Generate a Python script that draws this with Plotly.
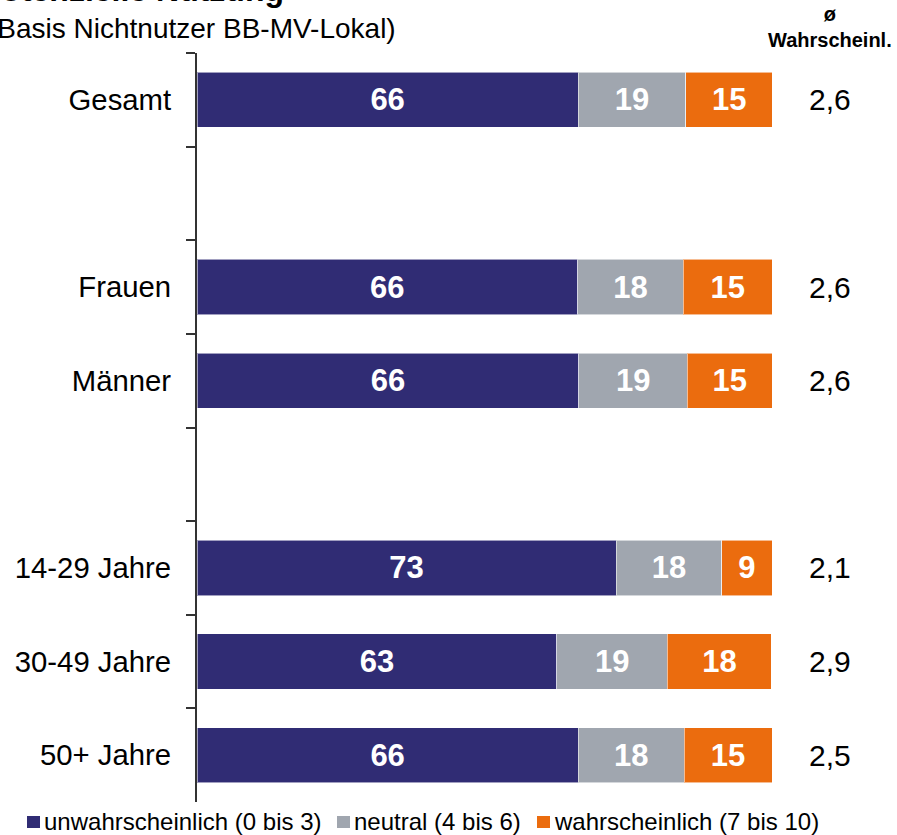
import plotly.graph_objects as go

# ---- data ----
categories = ["Gesamt", " ", "Frauen", "Männer", "  ", "14-29 Jahre", "30-49 Jahre", "50+ Jahre"]
groups = ["Gesamt", "Frauen", "Männer", "14-29 Jahre", "30-49 Jahre", "50+ Jahre"]
unwahrscheinlich = [66.3, 66.2, 66.4, 72.9, 62.6, 66.3]
neutral = [18.7, 18.4, 18.9, 18.4, 19.2, 18.4]
wahrscheinlich = [15.1, 15.4, 14.7, 8.7, 18.1, 15.3]
mittelwert = ["2,6", "2,6", "2,6", "2,1", "2,9", "2,5"]
series_names = ["unwahrscheinlich (0 bis 3)", "neutral (4 bis 6)", "wahrscheinlich (7 bis 10)"]
colors = ["#302C74", "#A0A6AF", "#EB6C0E"]

FONT = "Liberation Sans, Arial, sans-serif"

W, H = 897, 835
L, R, T, B = 197, 125, 53, 33
plot_w = W - L - R
plot_h = H - T - B

def px_x(p):
    return (p - L) / plot_w

def px_y(p):
    return (H - B - p) / plot_h

fig = go.Figure()
for name, vals, col in zip(series_names, [unwahrscheinlich, neutral, wahrscheinlich], colors):
    fig.add_trace(go.Bar(
        y=groups, x=vals, name=name, orientation="h",
        marker=dict(color=col, line=dict(color="rgba(255,255,255,0.55)", width=1)),
        width=0.59,
        texttemplate="%{x:.0f}", textposition="inside", insidetextanchor="middle",
        textangle=0,
        textfont=dict(family=FONT, size=31, color="white", weight="bold"),
        hoverinfo="skip",
    ))

annotations = []
for g, m in zip(groups, mittelwert):
    annotations.append(dict(x=px_x(830), xref="paper", y=g, yref="y", text=m,
                            showarrow=False, xanchor="center", yanchor="middle",
                            font=dict(family=FONT, size=30, color="black")))

annotations.append(dict(x=px_x(894), xref="paper", y=px_y(27), yref="paper",
                        text="<b>ø<br>Wahrscheinl.</b>", showarrow=False,
                        xanchor="right", yanchor="middle", align="center",
                        font=dict(family=FONT, size=20, color="black")))
annotations.append(dict(x=px_x(-22), xref="paper", y=px_y(-10), yref="paper",
                        text="<b>Potenzielle Nutzung</b>", showarrow=False,
                        xanchor="left", yanchor="middle",
                        font=dict(family=FONT, size=32, color="black")))
annotations.append(dict(x=px_x(-14), xref="paper", y=px_y(28), yref="paper",
                        text="(Basis Nichtnutzer BB-MV-Lokal)", showarrow=False,
                        xanchor="left", yanchor="middle",
                        font=dict(family=FONT, size=28, color="black")))

# manual legend (swatch squares + texts)
legend_swatch_x = [27, 337, 537]
shapes = []
for name, col, sx in zip(series_names, colors, legend_swatch_x):
    shapes.append(dict(type="rect", xref="paper", yref="paper",
                       x0=px_x(sx), x1=px_x(sx + 13), y0=px_y(828), y1=px_y(816),
                       fillcolor=col, line=dict(width=0)))
    annotations.append(dict(x=px_x(sx + 15), xref="paper", y=px_y(821), yref="paper",
                            text=name, showarrow=False, xanchor="left", yanchor="middle",
                            font=dict(family=FONT, size=24, color="black")))

fig.update_layout(
    width=W, height=H,
    margin=dict(l=L, r=R, t=T, b=B, pad=0, autoexpand=False),
    barmode="stack",
    plot_bgcolor="white", paper_bgcolor="white",
    font=dict(family=FONT, color="black"),
    showlegend=False,
    annotations=annotations,
    shapes=shapes,
    xaxis=dict(range=[0, 100], visible=False, fixedrange=True, automargin=False),
    yaxis=dict(type="category", categoryorder="array", categoryarray=categories,
               range=[len(categories) - 0.5, -0.5], automargin=False,
               tickson="boundaries", ticks="outside", ticklen=9, tickwidth=2,
               tickcolor="#333333", showline=True, linecolor="#333333", linewidth=2,
               showgrid=False, zeroline=False,
               tickfont=dict(family=FONT, size=29.3, color="black"),
               ticklabelstandoff=18),
)

fig.write_html("out.html", config={"displayModeBar": False},
               post_script="document.body.style.margin='0';document.body.style.overflow='hidden';")
